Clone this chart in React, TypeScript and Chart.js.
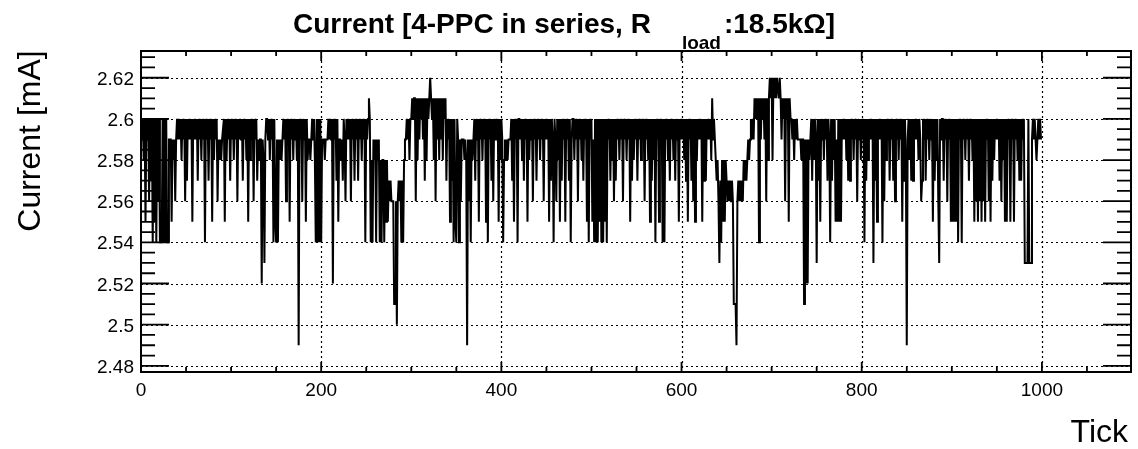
import React, { useEffect, useRef } from "react";
import { Chart, registerables } from "chart.js";

Chart.register(...registerables);

// Text
const TITLE_MAIN = "Current [4-PPC in series, R";
const TITLE_SUB = "load";
const TITLE_TAIL = ":18.5kΩ]";
const Y_TITLE = "Current [mA]";
const X_TITLE = "Tick";

// Axis ranges and tick positions
const X_MIN = 0;
const X_MAX = 1098.9;
const Y_MIN = 2.477;
const Y_MAX = 2.633;
const X_MAJOR_TICKS = [0, 200, 400, 600, 800, 1000];
const Y_MAJOR_TICKS = [2.48, 2.5, 2.52, 2.54, 2.56, 2.58, 2.6, 2.62];
const X_TICK_LABELS = ["0", "200", "400", "600", "800", "1000"];
const Y_TICK_LABELS = ["2.48", "2.5", "2.52", "2.54", "2.56", "2.58", "2.6", "2.62"];
const X_MINOR_STEP = 50;
const Y_MINOR_STEP = 0.005;

// Sample levels in mA, keyed by the character used in the rows below
const LEVELS: Record<string, number> = {
  v: 2.62,
  u: 2.61,
  "0": 2.6,
  "1": 2.59,
  "2": 2.58,
  "3": 2.57,
  "4": 2.56,
  "5": 2.55,
  "6": 2.54,
  "7": 2.53,
  "8": 2.52,
  "9": 2.51,
  a: 2.5,
  b: 2.49,
};

// Current readings, one character per tick, 100 ticks per row
const currentRows = [
  "0102050104" + "0306050604" + "0666060606" + "6111512141" + "0101020104" +
    "0301010501" + "0103010201" + "0601030105" + "0201041212" + "1105020103",
  "0102010401" + "0103010205" + "0201040103" + "1211812710" + "0102010605" +
    "6161212101" + "0401050102" + "01020b0104" + "0105021121" + "0102606060",
  "6111211101" + "0108010305" + "1121301401" + "0104010301" + "0301020106" +
    "010u062612" + "1612162622" + "6252534344" + "4994a43436" + "3621101020",
  "0u0uu4u2u1" + "u0u1u3u2u0" + "uvu0u2u4u1" + "u2u1u2u0u3" + "0105030605" +
    "6016141112" + "12b1416121" + "0301050102" + "0105060103" + "0401010502",
  "0162121211" + "1030501060" + "0102030105" + "0201040103" + "0102010401" +
    "0105030160" + "1402050301" + "0501030610" + "0201040102" + "0301050601",
  "0516060605" + "0606050601" + "0302040301" + "0201040102" + "0105030201" +
    "0301020104" + "0102050302" + "0601050106" + "0601020301" + "0203010501",
  "0102030501" + "0304050201" + "0105030301" + "0102u10123" + "2473625252" +
    "3434343499" + "9b43434342" + "3232121010" + "1u0u0u6u1u" + "0u1u4u2uvu",
  "v2vuvuvvuv" + "u1u0u4u0u5" + "u001020101" + "1112119181" + "8121030201" +
    "7030501020" + "1030160302" + "0515050501" + "0102030301" + "0201040102",
  "0106030201" + "0107030501" + "0106040201" + "0301030401" + "0201050302" +
    "b102030301" + "0102014301" + "0301020105" + "0302047010" + "0301040105",
  "0505050601" + "0601020103" + "0102050405" + "0405040501" + "0405030201" +
    "0103040205" + "0501050105" + "0102030301" + "0777707771" + "0101210101",
];

const FONT = "'Liberation Sans', Arial, sans-serif";

const rootStylePlugin = {
  id: "rootStyle",
  beforeDatasetsDraw(chart: any) {
    const { ctx, chartArea: a, scales } = chart;
    const xs = scales.x;
    const ys = scales.y;
    ctx.save();
    ctx.strokeStyle = "#000";
    ctx.lineWidth = 1.2;
    ctx.setLineDash([2, 3]);
    X_MAJOR_TICKS.forEach((v) => {
      const px = Math.round(xs.getPixelForValue(v)) + 0.5;
      if (px <= a.left + 2 || px >= a.right - 2) return;
      ctx.beginPath();
      ctx.moveTo(px, a.top);
      ctx.lineTo(px, a.bottom);
      ctx.stroke();
    });
    Y_MAJOR_TICKS.forEach((v) => {
      const py = Math.round(ys.getPixelForValue(v)) + 0.5;
      ctx.beginPath();
      ctx.moveTo(a.left, py);
      ctx.lineTo(a.right, py);
      ctx.stroke();
    });
    ctx.restore();
  },
  afterDatasetsDraw(chart: any) {
    const { ctx, chartArea: a, scales } = chart;
    const xs = scales.x;
    const ys = scales.y;
    ctx.save();
    ctx.setLineDash([]);
    ctx.strokeStyle = "#000";
    ctx.fillStyle = "#000";

    // frame
    ctx.lineWidth = 2;
    ctx.strokeRect(a.left, a.top, a.right - a.left, a.bottom - a.top);

    // y ticks on both sides
    ctx.lineWidth = 1.8;
    const kMin = Math.ceil(Y_MIN / Y_MINOR_STEP - 1e-6);
    const kMax = Math.floor(Y_MAX / Y_MINOR_STEP + 1e-6);
    for (let k = kMin; k <= kMax; k++) {
      const v = k * Y_MINOR_STEP;
      const major = Y_MAJOR_TICKS.some((m) => Math.abs(m - v) < 1e-6);
      const len = major ? 28 : 14;
      const py = ys.getPixelForValue(v);
      ctx.beginPath();
      ctx.moveTo(a.left, py);
      ctx.lineTo(a.left + len, py);
      ctx.moveTo(a.right, py);
      ctx.lineTo(a.right - len, py);
      ctx.stroke();
    }

    // x ticks on bottom and top
    for (let v = X_MIN; v <= X_MAX; v += X_MINOR_STEP) {
      const major = X_MAJOR_TICKS.includes(v);
      const len = major ? 10 : 5;
      const px = xs.getPixelForValue(v);
      ctx.beginPath();
      ctx.moveTo(px, a.bottom);
      ctx.lineTo(px, a.bottom - len);
      ctx.moveTo(px, a.top);
      ctx.lineTo(px, a.top + len);
      ctx.stroke();
    }

    // tick labels
    ctx.font = `19px ${FONT}`;
    ctx.textBaseline = "alphabetic";
    ctx.textAlign = "right";
    Y_MAJOR_TICKS.forEach((v, i) => {
      ctx.fillText(Y_TICK_LABELS[i], a.left - 7, ys.getPixelForValue(v) + 7);
    });
    ctx.textAlign = "center";
    X_MAJOR_TICKS.forEach((v, i) => {
      ctx.fillText(X_TICK_LABELS[i], xs.getPixelForValue(v), a.bottom + 24);
    });

    // axis titles
    ctx.font = `32px ${FONT}`;
    ctx.textAlign = "right";
    ctx.fillText(X_TITLE, 1128, 442);
    ctx.save();
    ctx.translate(40, 141);
    ctx.rotate(-Math.PI / 2);
    ctx.textAlign = "center";
    ctx.fillText(Y_TITLE, 0, 0);
    ctx.restore();

    // title with subscript
    ctx.textAlign = "left";
    ctx.font = `bold 28px ${FONT}`;
    const mainX = 293;
    ctx.fillText(TITLE_MAIN, mainX, 33);
    const wMain = ctx.measureText(TITLE_MAIN).width;
    ctx.font = `bold 19px ${FONT}`;
    const subX = mainX + wMain + 31;
    ctx.fillText(TITLE_SUB, subX, 49);
    const wSub = ctx.measureText(TITLE_SUB).width;
    ctx.font = `bold 28px ${FONT}`;
    ctx.fillText(TITLE_TAIL, subX + wSub + 3, 33);

    ctx.restore();
  },
};

export default function App() {
  const canvasRef = useRef<HTMLCanvasElement | null>(null);

  useEffect(() => {
    document.body.style.margin = "0";
    const canvas = canvasRef.current;
    if (!canvas) return;

    const codes = currentRows.join("");
    const points = Array.from(codes).map((c, i) => ({ x: i, y: LEVELS[c] }));

    const chart = new Chart(canvas, {
      type: "line",
      data: {
        datasets: [
          {
            data: points,
            borderColor: "#000",
            borderWidth: 2,
            pointRadius: 0,
            tension: 0,
            fill: false,
          },
        ],
      },
      options: {
        animation: false,
        responsive: false,
        maintainAspectRatio: false,
        devicePixelRatio: 1,
        parsing: false,
        normalized: true,
        layout: { padding: { top: 51, right: 7, left: 0, bottom: 0 } },
        plugins: {
          legend: { display: false },
          title: { display: false },
          tooltip: { enabled: false },
        },
        scales: {
          x: {
            type: "linear",
            min: X_MIN,
            max: X_MAX,
            ticks: { display: false },
            grid: { display: false },
            border: { display: false },
            afterFit: (s: any) => {
              s.height = 449 - 372;
            },
          },
          y: {
            type: "linear",
            min: Y_MIN,
            max: Y_MAX,
            ticks: { display: false },
            grid: { display: false },
            border: { display: false },
            afterFit: (s: any) => {
              s.width = 141;
            },
          },
        },
      },
      plugins: [rootStylePlugin],
    });

    return () => chart.destroy();
  }, []);

  return (
    <div style={{ position: "absolute", left: 0, top: 0, width: 1138, height: 449, background: "#fff" }}>
      <canvas ref={canvasRef} width={1138} height={449} style={{ width: 1138, height: 449, display: "block" }} />
    </div>
  );
}
